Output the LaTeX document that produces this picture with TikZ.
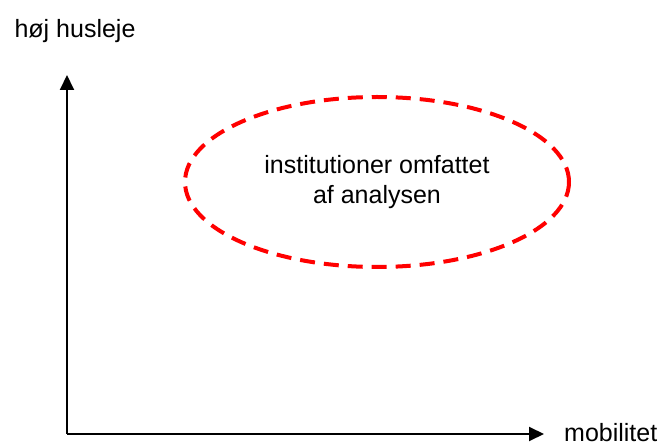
\documentclass[tikz,border=0pt]{standalone}
\usepackage{fontspec}
\setmainfont{Liberation Sans}
\usetikzlibrary{arrows.meta,positioning,shapes.geometric}

\begin{document}
\begin{tikzpicture}[x=1pt,y=-1pt,font=\fontsize{25}{30}\selectfont,
    axis/.style={line width=2pt,-{Triangle[length=15pt,width=14pt]}},
    group/.style={ellipse,draw=red,line width=4pt,dash pattern=on 15pt off 9pt,
      minimum width=384pt,minimum height=170pt,align=center,inner sep=0pt}]
 \useasboundingbox (0,0) rectangle (665,446);
 \coordinate (O) at (67,434);
 \coordinate (ytop) at (67,75);
 \coordinate (xend) at (544,434);
 \node[anchor=center] (ylab) at (75,31) {høj husleje};
 \node[anchor=base west,inner sep=0pt] (xlab) at (564,442) {mobilitet};
 \node[group] (inst) at (377,182) {institutioner omfattet\\af analysen};
 \draw[axis] (O) -- (ytop);
 \draw[axis] (O) -- (xend);
\end{tikzpicture}
\end{document}
